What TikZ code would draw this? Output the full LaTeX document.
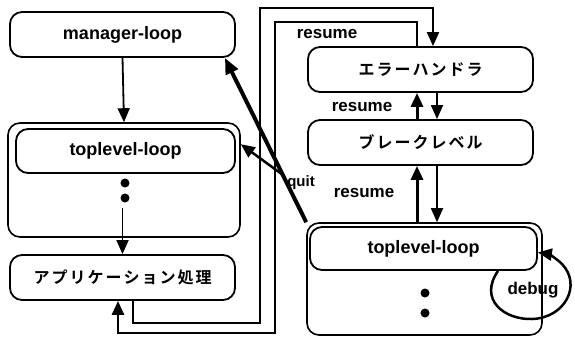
\documentclass[tikz,border=0pt]{standalone}
\usepackage{fontspec}
\setmainfont{Liberation Sans}
\newfontfamily\jp{Noto Sans CJK JP}[BoldFont={Noto Sans CJK JP Bold}]
\usetikzlibrary{arrows.meta}
\newcommand\jk{\kern2pt}
\begin{document}
\begin{tikzpicture}[x=1pt,y=-1pt,
  box/.style={draw, line width=1.8pt, rounded corners=12pt, inner sep=0pt,
    minimum width=225pt, minimum height=45pt,
    font=\fontsize{18}{20}\selectfont\bfseries},
  grp/.style={draw, line width=1.6pt, rounded corners=12pt, inner sep=0pt},
  jtxt/.style={font=\jp\fontsize{16}{18}\selectfont\bfseries},
  lbl/.style={inner sep=0pt, font=\fontsize{17}{20}\selectfont\bfseries},
  tip/.style={-{Triangle[length=14pt,width=12pt]}},
  arrA/.style={line width=1.8pt, tip},
  arrB/.style={line width=3pt, tip},
  dot/.style={fill=black}
]
\useasboundingbox (0,0) rectangle (575,338);

% left group
\node[grp, minimum width=232pt, minimum height=114pt] (lg) at (124,180) {};
\node[box, minimum width=219pt, minimum height=44pt] (tl1) at (125.5,151) {toplevel-loop};
\node[box] (mgr) at (122.5,34.5) {manager-loop};
\node[box, jtxt] (app) at (122.5,277.5) {ア\jk プ\jk リ\jk ケ\jk ー\jk シ\jk ョ\jk ン\jk 処\jk 理};
\fill[dot] (125,183) circle (4.5pt);
\fill[dot] (125,198) circle (4.5pt);

% right side
\node[box, jtxt] (err) at (420.5,69.5) {エ\jk ラ\jk ー\jk ハ\jk ン\jk ド\jk ラ};
\node[box, jtxt] (brk) at (420.5,142.5) {ブ\jk レ\jk ー\jk ク\jk レ\jk ベ\jk ル};
\node[grp, minimum width=235pt, minimum height=112pt] (rg) at (424.5,279) {};
\node[box, minimum width=227pt, minimum height=43pt] (tl2) at (423.5,248.5) {toplevel-loop};
\fill[dot] (425,293) circle (4.5pt);
\fill[dot] (425,313) circle (4.5pt);

% left arrows
\draw[arrA] (mgr.south) -- (lg.north);
\coordinate (d1) at (122.5,208);
\draw[arrA] (d1) -- (app.north);

% long paths
\draw[line width=2pt, tip] ([xshift=10.5pt]app.south) |- (260,323) |- (433,8) -- ([xshift=12.5pt]err.north);
\draw[line width=2.8pt, tip] ([xshift=-3.5pt]err.north) |- (275,22) |- (118,333) -- ([xshift=-4.5pt]app.south);
\node[lbl] (r1) at (327,34) {resume};

% middle arrows
\draw[arrB] ([xshift=-3.5pt]brk.north) -- ([xshift=-3.5pt]err.south);
\draw[arrA] ([xshift=16.5pt]err.south) -- ([xshift=16.5pt]brk.north);
\node[lbl] (r2) at (362,107) {resume};
\draw[arrB] ([xshift=-7.5pt]rg.north) -- ([xshift=-3.5pt]brk.south);
\draw[arrA] ([xshift=16.5pt]brk.south) -- ([xshift=12.5pt]rg.north);
\node[lbl] (r3) at (364,193) {resume};

% quit
\draw[line width=4pt, -{Triangle[length=16pt,width=13pt]}] (rg.north west) -- ([xshift=-11pt]mgr.south east);
\coordinate (q2) at (283,175);
\draw[line width=2.5pt, tip] (q2) -- ([yshift=-22pt]lg.north east);
\node[lbl, font=\fontsize{15}{18}\selectfont\bfseries] (ql) at (301,183) {quit};

% debug loop
\draw[line width=2.5pt, tip] ([xshift=74.5pt]tl2.south) .. controls (478,300) and (505,320) .. (532,319) .. controls (565,318) and (582,285) .. (562,264) .. controls (556,258) and (548,254) .. ([yshift=-4pt]tl2.east);
\node[lbl] (dbg) at (533,290) {debug};
\end{tikzpicture}
\end{document}
